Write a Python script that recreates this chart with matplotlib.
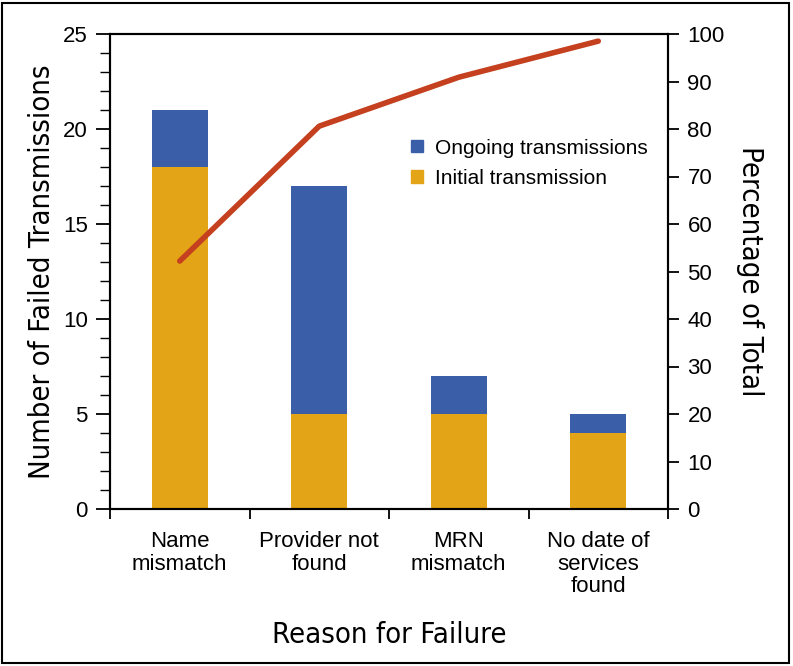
import matplotlib
matplotlib.use("Agg")
import matplotlib.pyplot as plt
import numpy as np
from matplotlib.patches import Rectangle, Patch
from matplotlib.ticker import MultipleLocator

categories = ["Name\nmismatch", "Provider not\nfound", "MRN\nmismatch", "No date of\nservices\nfound"]
initial = [18, 5, 5, 4]
ongoing = [3, 12, 2, 1]
cumulative_pct = [52.2, 80.6, 90.9, 98.5]

BLUE = "#3a5fa8"
ORANGE = "#e4a417"
RED = "#c4401f"

plt.rcParams["font.family"] = ["Liberation Sans", "DejaVu Sans"]
label_font = dict(fontsize=21, family="DejaVu Sans", fontstretch="condensed")

fig = plt.figure(figsize=(7.93, 6.66), dpi=100)
ax = fig.add_axes([110 / 793, 1 - 509 / 666, 558 / 793, 475 / 666])

x = np.arange(len(categories))
ax.bar(x, initial, width=0.4, color=ORANGE, zorder=2)
ax.bar(x, ongoing, width=0.4, bottom=initial, color=BLUE, zorder=2)

ax.set_xlim(-0.5, len(categories) - 0.5)
ax.set_ylim(0, 25)
ax.yaxis.set_major_locator(MultipleLocator(5))
ax.yaxis.set_minor_locator(MultipleLocator(1))
ax.tick_params(axis="y", which="major", direction="out", length=10, width=1.3, labelsize=16, pad=6)
ax.tick_params(axis="y", which="minor", direction="out", length=7, width=1.0)

ax.set_xticks(x)
ax.set_xticklabels(categories, fontsize=16, linespacing=1.1)
ax.tick_params(axis="x", which="major", length=0, pad=16)
ax.set_xticks(np.arange(-0.5, len(categories)), minor=True)
ax.tick_params(axis="x", which="minor", direction="out", length=7, width=1.3)

for s in ax.spines.values():
    s.set_linewidth(1.5)

ax.set_ylabel("Number of Failed Transmissions", labelpad=5, **label_font)
ax.set_xlabel("Reason for Failure", labelpad=17, **label_font)

ax2 = ax.twinx()
ax2.plot(x, cumulative_pct, color=RED, linewidth=4, solid_capstyle="round", zorder=3)
ax2.set_ylim(0, 100)
ax2.yaxis.set_major_locator(MultipleLocator(10))
ax2.tick_params(axis="y", direction="out", length=8, width=1.3, labelsize=16, pad=6)
for s in ax2.spines.values():
    s.set_linewidth(1.5)
ax2.set_ylabel("Percentage of Total", rotation=270, labelpad=28, **label_font)

handles = [Patch(color=BLUE), Patch(color=ORANGE)]
ax2.legend(handles, ["Ongoing transmissions", "Initial transmission"], loc="upper left",
           bbox_to_anchor=(0.54, 0.78), frameon=False, fontsize=15,
           handlelength=0.55, handleheight=0.55, handletextpad=0.6, labelspacing=0.55,
           borderpad=0, borderaxespad=0)

fig.patches.append(Rectangle((0.003, 0.004), 0.992, 0.992, transform=fig.transFigure,
                             fill=False, edgecolor="black", linewidth=1.5))

fig.savefig("out.png", dpi=100)
